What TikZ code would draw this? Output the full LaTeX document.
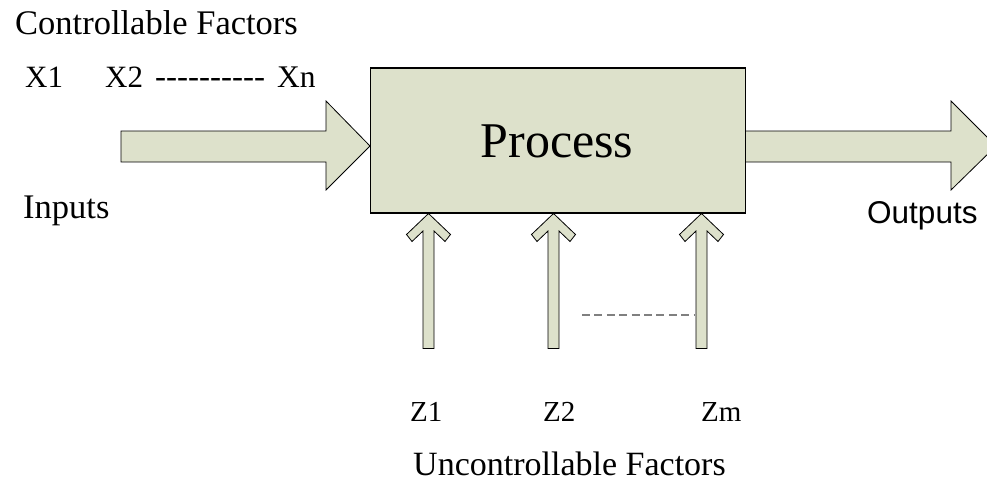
\documentclass[tikz,border=0pt]{standalone}
\usepackage{fontspec}
\setmainfont[Ligatures=TeXOff]{Liberation Serif}
\newfontfamily\labelsans{Liberation Sans}
\definecolor{pfill}{RGB}{221,225,203}
\definecolor{dashgray}{RGB}{128,128,128}
\tikzset{
  body/.style={fill=pfill, draw=black, line width=0.8pt, line join=miter},
  procbox/.style={fill=pfill, draw=black, line width=1.1pt, minimum width=375pt, minimum height=145pt, inner sep=0pt},
  txt/.style={inner sep=0pt, anchor=base west},
  uparr/.pic={
    \draw[body] (0,0) -- (-22,21) -- (-16.5,28) -- (-5.5,17.5) -- (-5.5,135)
      -- (5.5,135) -- (5.5,17.5) -- (16.5,28) -- (22,21) -- cycle;
  }
}
\begin{document}
\begin{tikzpicture}[x=1pt,y=-1pt]
\useasboundingbox (0,0) rectangle (987,487);
\clip (0,0) rectangle (987,487);

% input and output block arrows
\draw[body] (121,131) -- (326,131) -- (326,101) -- (370,146) -- (326,190)
  -- (326,162) -- (121,162) -- cycle;
\draw[body] (745.5,131) -- (951,131) -- (951,101) -- (996,146) -- (951,190)
  -- (951,162) -- (745.5,162) -- cycle;

% process block
\node[procbox] (proc) at (558,140.5) {};
\node[inner sep=0pt, anchor=base, font=\fontsize{50}{58}\selectfont] (ptext) at (557,157) {Process};

% uncontrollable factor arrows
\pic at (428.5,213.5) {uparr};
\pic at (553.5,213.5) {uparr};
\pic at (701.5,213.5) {uparr};
\draw[dashgray, line width=1.6pt, dash pattern=on 8pt off 4.4pt] (582,315) -- (694,315);

% labels
\node[txt, font=\fontsize{34.5}{40}\selectfont] (cf) at (15,35) {Controllable Factors};
\node[txt, font=\fontsize{31}{36}\selectfont] (x1) at (25,88) {X1};
\node[txt, font=\fontsize{31}{36}\selectfont] (x2) at (105,88) {X2};
\node[txt, font=\fontsize{33}{36}\selectfont] (xd) at (155,88) {----------};
\node[txt, font=\fontsize{31.5}{36}\selectfont] (xn) at (277,88) {Xn};
\node[txt, font=\fontsize{34.5}{40}\selectfont] (inp) at (23,218) {Inputs};
\node[txt, font=\labelsans\fontsize{31.5}{36}\selectfont] (outp) at (867,223) {Outputs};
\node[txt, font=\fontsize{29}{34}\selectfont] (z1) at (410,421) {Z1};
\node[txt, font=\fontsize{29}{34}\selectfont] (z2) at (543,421) {Z2};
\node[txt, font=\fontsize{29}{34}\selectfont] (zm) at (701,421) {Zm};
\node[txt, font=\fontsize{34}{40}\selectfont] (uf) at (413,475) {Uncontrollable Factors};
\end{tikzpicture}
\end{document}
